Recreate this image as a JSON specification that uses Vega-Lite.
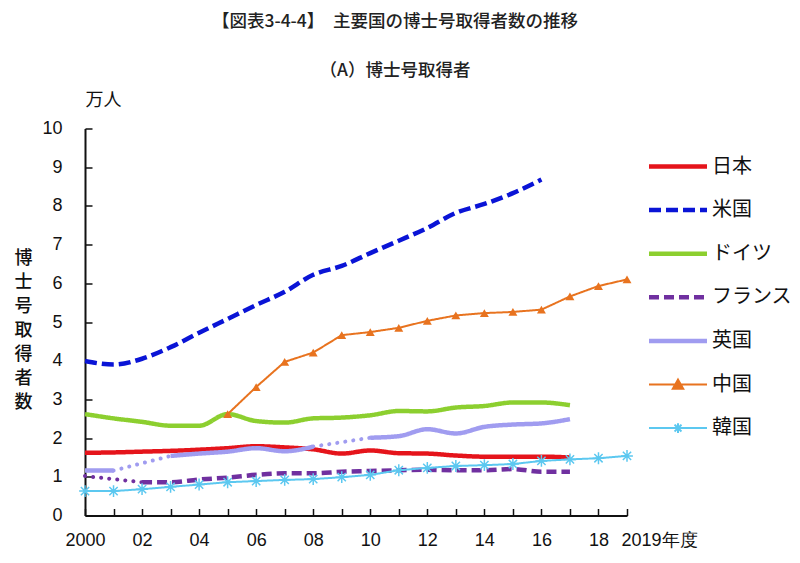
{
  "$schema": "https://vega.github.io/schema/vega-lite/v6.json",
  "width": 542,
  "height": 387,
  "autosize": {"type": "none"},
  "padding": {"left": 85, "top": 128.5, "right": 173, "bottom": 47.5},
  "background": "white",
  "config": {"view": {"stroke": null}, "font": "Noto Sans CJK JP", "axis": {"labelOverlap": false}},
  "title": {
    "text": "【図表3-4-4】　主要国の博士号取得者数の推移",
    "subtitle": "（A）博士号取得者",
    "anchor": "middle",
    "frame": "group",
    "dx": 39,
    "font": "Noto Sans CJK JP",
    "fontSize": 17.5,
    "fontWeight": 500,
    "color": "#222222",
    "subtitleFont": "Noto Sans CJK JP",
    "subtitleFontSize": 17.5,
    "subtitleFontWeight": 500,
    "subtitleColor": "#222222",
    "offset": 12,
    "subtitlePadding": 32
  },
  "datasets": {
    "main": [
      {"c": "日本", "s": "jp", "year": 2000, "v": 1.62},
      {"c": "日本", "s": "jp", "year": 2001, "v": 1.63},
      {"c": "日本", "s": "jp", "year": 2002, "v": 1.65},
      {"c": "日本", "s": "jp", "year": 2003, "v": 1.67},
      {"c": "日本", "s": "jp", "year": 2004, "v": 1.70},
      {"c": "日本", "s": "jp", "year": 2005, "v": 1.74},
      {"c": "日本", "s": "jp", "year": 2006, "v": 1.79},
      {"c": "日本", "s": "jp", "year": 2007, "v": 1.76},
      {"c": "日本", "s": "jp", "year": 2008, "v": 1.71},
      {"c": "日本", "s": "jp", "year": 2009, "v": 1.60},
      {"c": "日本", "s": "jp", "year": 2010, "v": 1.68},
      {"c": "日本", "s": "jp", "year": 2011, "v": 1.61},
      {"c": "日本", "s": "jp", "year": 2012, "v": 1.60},
      {"c": "日本", "s": "jp", "year": 2013, "v": 1.55},
      {"c": "日本", "s": "jp", "year": 2014, "v": 1.52},
      {"c": "日本", "s": "jp", "year": 2015, "v": 1.52},
      {"c": "日本", "s": "jp", "year": 2016, "v": 1.52},
      {"c": "日本", "s": "jp", "year": 2017, "v": 1.50},
      {"c": "米国", "s": "us", "year": 2000, "v": 3.99},
      {"c": "米国", "s": "us", "year": 2001, "v": 3.90},
      {"c": "米国", "s": "us", "year": 2002, "v": 4.05},
      {"c": "米国", "s": "us", "year": 2003, "v": 4.35},
      {"c": "米国", "s": "us", "year": 2004, "v": 4.72},
      {"c": "米国", "s": "us", "year": 2005, "v": 5.08},
      {"c": "米国", "s": "us", "year": 2006, "v": 5.44},
      {"c": "米国", "s": "us", "year": 2007, "v": 5.78},
      {"c": "米国", "s": "us", "year": 2008, "v": 6.22},
      {"c": "米国", "s": "us", "year": 2009, "v": 6.45},
      {"c": "米国", "s": "us", "year": 2010, "v": 6.78},
      {"c": "米国", "s": "us", "year": 2011, "v": 7.10},
      {"c": "米国", "s": "us", "year": 2012, "v": 7.43},
      {"c": "米国", "s": "us", "year": 2013, "v": 7.82},
      {"c": "米国", "s": "us", "year": 2014, "v": 8.05},
      {"c": "米国", "s": "us", "year": 2015, "v": 8.33},
      {"c": "米国", "s": "us", "year": 2016, "v": 8.68},
      {"c": "ドイツ", "s": "de", "year": 2000, "v": 2.62},
      {"c": "ドイツ", "s": "de", "year": 2001, "v": 2.51},
      {"c": "ドイツ", "s": "de", "year": 2002, "v": 2.42},
      {"c": "ドイツ", "s": "de", "year": 2003, "v": 2.32},
      {"c": "ドイツ", "s": "de", "year": 2004, "v": 2.32},
      {"c": "ドイツ", "s": "de", "year": 2005, "v": 2.62},
      {"c": "ドイツ", "s": "de", "year": 2006, "v": 2.44},
      {"c": "ドイツ", "s": "de", "year": 2007, "v": 2.40},
      {"c": "ドイツ", "s": "de", "year": 2008, "v": 2.51},
      {"c": "ドイツ", "s": "de", "year": 2009, "v": 2.53},
      {"c": "ドイツ", "s": "de", "year": 2010, "v": 2.59},
      {"c": "ドイツ", "s": "de", "year": 2011, "v": 2.70},
      {"c": "ドイツ", "s": "de", "year": 2012, "v": 2.69},
      {"c": "ドイツ", "s": "de", "year": 2013, "v": 2.79},
      {"c": "ドイツ", "s": "de", "year": 2014, "v": 2.83},
      {"c": "ドイツ", "s": "de", "year": 2015, "v": 2.92},
      {"c": "ドイツ", "s": "de", "year": 2016, "v": 2.92},
      {"c": "ドイツ", "s": "de", "year": 2017, "v": 2.85},
      {"c": "フランス", "s": "fr0", "year": 2000, "v": 1.02},
      {"c": "フランス", "s": "fr", "year": 2002, "v": 0.86},
      {"c": "フランス", "s": "fr", "year": 2003, "v": 0.86},
      {"c": "フランス", "s": "fr", "year": 2004, "v": 0.93},
      {"c": "フランス", "s": "fr", "year": 2005, "v": 0.98},
      {"c": "フランス", "s": "fr", "year": 2006, "v": 1.05},
      {"c": "フランス", "s": "fr", "year": 2007, "v": 1.09},
      {"c": "フランス", "s": "fr", "year": 2008, "v": 1.09},
      {"c": "フランス", "s": "fr", "year": 2009, "v": 1.13},
      {"c": "フランス", "s": "fr", "year": 2010, "v": 1.15},
      {"c": "フランス", "s": "fr", "year": 2011, "v": 1.17},
      {"c": "フランス", "s": "fr", "year": 2012, "v": 1.18},
      {"c": "フランス", "s": "fr", "year": 2013, "v": 1.17},
      {"c": "フランス", "s": "fr", "year": 2014, "v": 1.17},
      {"c": "フランス", "s": "fr", "year": 2015, "v": 1.20},
      {"c": "フランス", "s": "fr", "year": 2016, "v": 1.13},
      {"c": "フランス", "s": "fr", "year": 2017, "v": 1.13},
      {"c": "英国", "s": "uk1", "year": 2000, "v": 1.16},
      {"c": "英国", "s": "uk1", "year": 2001, "v": 1.16},
      {"c": "英国", "s": "uk2", "year": 2003, "v": 1.54},
      {"c": "英国", "s": "uk2", "year": 2004, "v": 1.60},
      {"c": "英国", "s": "uk2", "year": 2005, "v": 1.65},
      {"c": "英国", "s": "uk2", "year": 2006, "v": 1.74},
      {"c": "英国", "s": "uk2", "year": 2007, "v": 1.66},
      {"c": "英国", "s": "uk2", "year": 2008, "v": 1.78},
      {"c": "英国", "s": "uk3", "year": 2010, "v": 2.01},
      {"c": "英国", "s": "uk3", "year": 2011, "v": 2.05},
      {"c": "英国", "s": "uk3", "year": 2012, "v": 2.23},
      {"c": "英国", "s": "uk3", "year": 2013, "v": 2.12},
      {"c": "英国", "s": "uk3", "year": 2014, "v": 2.29},
      {"c": "英国", "s": "uk3", "year": 2015, "v": 2.35},
      {"c": "英国", "s": "uk3", "year": 2016, "v": 2.38},
      {"c": "英国", "s": "uk3", "year": 2017, "v": 2.49},
      {"c": "中国", "s": "cn", "year": 2005, "v": 2.62},
      {"c": "中国", "s": "cn", "year": 2006, "v": 3.32},
      {"c": "中国", "s": "cn", "year": 2007, "v": 3.97},
      {"c": "中国", "s": "cn", "year": 2008, "v": 4.21},
      {"c": "中国", "s": "cn", "year": 2009, "v": 4.66},
      {"c": "中国", "s": "cn", "year": 2010, "v": 4.74},
      {"c": "中国", "s": "cn", "year": 2011, "v": 4.85},
      {"c": "中国", "s": "cn", "year": 2012, "v": 5.03},
      {"c": "中国", "s": "cn", "year": 2013, "v": 5.17},
      {"c": "中国", "s": "cn", "year": 2014, "v": 5.23},
      {"c": "中国", "s": "cn", "year": 2015, "v": 5.26},
      {"c": "中国", "s": "cn", "year": 2016, "v": 5.32},
      {"c": "中国", "s": "cn", "year": 2017, "v": 5.66},
      {"c": "中国", "s": "cn", "year": 2018, "v": 5.93},
      {"c": "中国", "s": "cn", "year": 2019, "v": 6.10},
      {"c": "韓国", "s": "kr", "year": 2000, "v": 0.63},
      {"c": "韓国", "s": "kr", "year": 2001, "v": 0.63},
      {"c": "韓国", "s": "kr", "year": 2002, "v": 0.68},
      {"c": "韓国", "s": "kr", "year": 2003, "v": 0.74},
      {"c": "韓国", "s": "kr", "year": 2004, "v": 0.80},
      {"c": "韓国", "s": "kr", "year": 2005, "v": 0.86},
      {"c": "韓国", "s": "kr", "year": 2006, "v": 0.89},
      {"c": "韓国", "s": "kr", "year": 2007, "v": 0.92},
      {"c": "韓国", "s": "kr", "year": 2008, "v": 0.94},
      {"c": "韓国", "s": "kr", "year": 2009, "v": 0.99},
      {"c": "韓国", "s": "kr", "year": 2010, "v": 1.05},
      {"c": "韓国", "s": "kr", "year": 2011, "v": 1.17},
      {"c": "韓国", "s": "kr", "year": 2012, "v": 1.23},
      {"c": "韓国", "s": "kr", "year": 2013, "v": 1.28},
      {"c": "韓国", "s": "kr", "year": 2014, "v": 1.30},
      {"c": "韓国", "s": "kr", "year": 2015, "v": 1.33},
      {"c": "韓国", "s": "kr", "year": 2016, "v": 1.41},
      {"c": "韓国", "s": "kr", "year": 2017, "v": 1.45},
      {"c": "韓国", "s": "kr", "year": 2018, "v": 1.48},
      {"c": "韓国", "s": "kr", "year": 2019, "v": 1.54}
    ],
    "gaps": [
      {"c": "フランス", "year": 2000, "v": 1.02, "year2": 2002, "v2": 0.86},
      {"c": "英国", "year": 2001, "v": 1.16, "year2": 2003, "v2": 1.54},
      {"c": "英国", "year": 2008, "v": 1.78, "year2": 2010, "v2": 2.01}
    ]
  },
  "encoding": {
    "x": {
      "field": "year", "type": "quantitative",
      "scale": {"domain": [2000, 2019], "nice": false, "zero": false},
      "axis": {
        "title": "万人",
        "titleAlign": "left",
        "titleBaseline": "middle",
        "titleAngle": 0,
        "titleX": 0,
        "titleY": -415,
        "titleFont": "Noto Sans CJK JP",
        "titleFontSize": 18,
        "titleFontWeight": "normal",
        "titleColor": "#111111",
        "values": [2000, 2001, 2002, 2003, 2004, 2005, 2006, 2007, 2008, 2009, 2010, 2011, 2012, 2013, 2014, 2015, 2016, 2017, 2018, 2019],
        "labelExpr": "datum.value == 2000 ? '2000' : datum.value == 2019 ? '2019年度' : (datum.value % 2 == 0 ? slice(toString(100 + datum.value % 100), 1) : '')",
        "labelAlign": {"condition": {"test": "datum.value == 2019", "value": "left"}, "value": "center"},
        "labelOffset": {"condition": {"test": "datum.value == 2019", "value": -6}, "value": 0},
        "labelFont": "Liberation Sans",
        "labelFontSize": 18,
        "labelColor": "#111111",
        "labelPadding": 23,
        "labelFlush": false,
        "labelOverlap": false,
        "labelBound": false,
        "domainColor": "#111111",
        "domainWidth": 2,
        "ticks": true,
        "tickColor": "#111111",
        "tickWidth": 1.5,
        "tickSize": -7,
        "grid": false
      }
    },
    "y": {
      "field": "v", "type": "quantitative",
      "scale": {"domain": [0, 10], "nice": false},
      "axis": {
        "title": ["博", "士", "号", "取", "得", "者", "数"],
        "titleAngle": 0,
        "titleAlign": "center",
        "titleBaseline": "top",
        "titleX": -62,
        "titleY": 121,
        "titleFont": "Noto Sans CJK JP",
        "titleFontSize": 18,
        "titleFontWeight": 500,
        "titleLineHeight": 24,
        "titleColor": "#111111",
        "values": [0, 1, 2, 3, 4, 5, 6, 7, 8, 9, 10],
        "labelFont": "Liberation Sans",
        "labelFontSize": 18,
        "labelColor": "#111111",
        "labelPadding": 30,
        "labelOverlap": false,
        "labelFlush": false,
        "domainColor": "#111111",
        "domainWidth": 2,
        "ticks": true,
        "tickColor": "#111111",
        "tickWidth": 1.5,
        "tickSize": -7,
        "grid": false
      }
    }
  },
  "layer": [
    {
      "data": {"name": "main"},
      "transform": [{"filter": {"field": "c", "oneOf": ["日本", "米国", "ドイツ", "フランス", "英国"]}}],
      "mark": {"type": "line", "strokeWidth": 4.5, "interpolate": "monotone", "strokeCap": "butt"},
      "encoding": {
        "color": {
          "field": "c", "type": "nominal",
          "scale": {
            "domain": ["日本", "米国", "ドイツ", "フランス", "英国", "中国", "韓国"],
            "range": ["#E5141B", "#0A14D6", "#8CCF2F", "#7030A0", "#A09CF0", "#E8731F", "#5CC8F0"]
          },
          "legend": {
            "title": null,
            "orient": "none",
            "legendX": 583,
            "legendY": 28,
            "symbolType": "stroke",
            "symbolSize": 3364,
            "symbolStrokeWidth": 4.5,
            "labelFont": "Noto Sans CJK JP",
            "labelFontSize": 20,
            "labelColor": "#111111",
            "labelOffset": 24,
            "rowPadding": 23.6,
            "encode": {
              "symbols": {
                "update": {
                  "shape": {"signal": "datum.value === '中国' ? 'M-1,0L1,0M-0.18,0.15L0,-0.17L0.18,0.15Z' : datum.value === '韓国' ? 'M-1,0L1,0M-0.17,0L0.17,0M0,-0.17L0,0.17M-0.12,-0.12L0.12,0.12M-0.12,0.12L0.12,-0.12' : 'stroke'"},
                  "strokeWidth": {"signal": "datum.value === '中国' || datum.value === '韓国' ? 2 : 4.5"},
                  "fill": {"signal": "datum.value === '中国' ? '#E8731F' : 'transparent'"}
                }
              }
            }
          }
        },
        "strokeDash": {
          "field": "c", "type": "nominal",
          "scale": {
            "domain": ["日本", "米国", "ドイツ", "フランス", "英国", "中国", "韓国"],
            "range": [[1, 0], [12, 5], [1, 0], [10, 5], [1, 0], [1, 0], [1, 0]]
          }
        },
        "detail": {"field": "s"}
      }
    },
    {
      "data": {"name": "main"},
      "transform": [{"filter": {"field": "c", "oneOf": ["中国", "韓国"]}}],
      "mark": {"type": "line", "strokeWidth": 2},
      "encoding": {
        "color": {"field": "c", "type": "nominal"},
        "strokeDash": {"field": "c", "type": "nominal"},
        "detail": {"field": "s"}
      }
    },
    {
      "data": {"name": "gaps"},
      "mark": {"type": "rule", "strokeWidth": 4, "strokeDash": [0.1, 8], "strokeCap": "round"},
      "encoding": {
        "x2": {"field": "year2"},
        "y2": {"field": "v2"},
        "color": {"field": "c", "type": "nominal"}
      }
    },
    {
      "data": {"name": "main"},
      "transform": [{"filter": {"field": "c", "equal": "中国"}}],
      "mark": {"type": "point", "shape": "triangle-up", "filled": true, "size": 80, "color": "#E8731F", "opacity": 1}
    },
    {
      "data": {"name": "main"},
      "transform": [{"filter": {"field": "c", "equal": "韓国"}}],
      "mark": {"type": "point", "shape": "M-1,0L1,0M0,-1L0,1M-0.7,-0.7L0.7,0.7M-0.7,0.7L0.7,-0.7", "filled": false, "size": 140, "strokeWidth": 1.5, "color": "#5CC8F0", "opacity": 1}
    }
  ]
}
